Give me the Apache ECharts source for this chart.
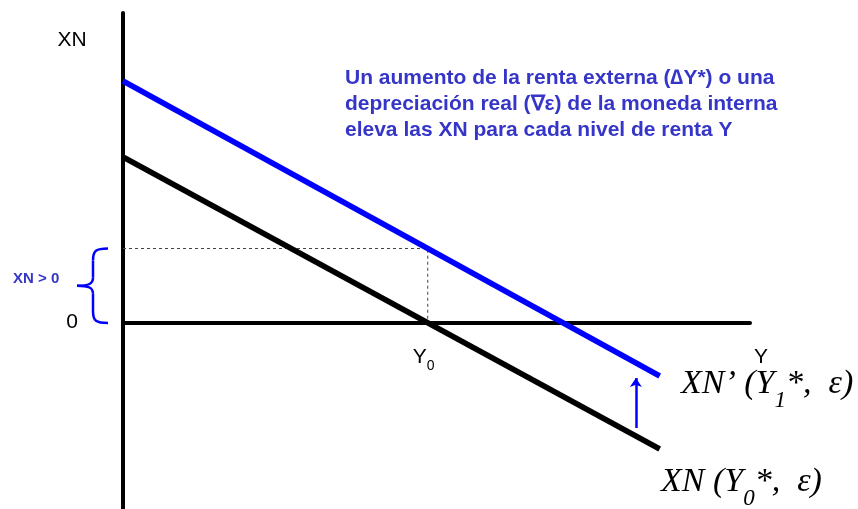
<!DOCTYPE html>
<html>
<head>
<meta charset="utf-8">
<script src="https://cdn.jsdelivr.net/npm/echarts@6/dist/echarts.min.js"></script>
<style>
  html, body { margin: 0; padding: 0; background: #fff; }
  #chart { width: 858px; height: 509px; }
</style>
</head>
<body>
<div id="chart"></div>
<script>
// XN curves (units: x = renta Y, y = exportaciones netas)
const xnLine = [[0, 33.2], [85.6, -25.2]];
const xnPrimeLine = [[0, 48.4], [85.6, -10.6]];
const y0 = 48.6;
const xnAtY0 = 14.9;
const shiftArrow = [[81.8, -21], [81.8, -11]];
const xRange = [0, 100];
const yRange = [-37.2, 62];
const noteLines = [
  "Un aumento de la renta externa (\u2206Y*) o una",
  "depreciación real (\u2207\u03b5) de la moneda interna",
  "eleva las XN para cada nivel de renta Y"
];

const BLUE = "#0000ff";
const NOTE_BLUE = "#3535c8";

const chart = echarts.init(document.getElementById("chart"));

const option = {
  animation: false,
  grid: { left: 123, top: 13, width: 627, height: 496 },
  xAxis: {
    type: "value",
    min: xRange[0],
    max: xRange[1],
    axisLine: { onZero: true, lineStyle: { color: "#000", width: 4 } },
    axisTick: { show: false },
    axisLabel: { show: false },
    splitLine: { show: false }
  },
  yAxis: {
    type: "value",
    min: yRange[0],
    max: yRange[1],
    axisLine: { onZero: true, lineStyle: { color: "#000", width: 4 } },
    axisTick: { show: false },
    axisLabel: { show: false },
    splitLine: { show: false }
  },
  series: [
    {
      name: "guias",
      type: "line",
      data: [[0, xnAtY0], [y0, xnAtY0], [y0, 0]],
      symbol: "none",
      lineStyle: { color: "#444", width: 1, type: [3, 3] },
      z: 1
    },
    {
      name: "XN",
      type: "line",
      data: xnLine,
      symbol: "none",
      lineStyle: { color: "#000", width: 5.5 },
      z: 3
    },
    {
      name: "XN'",
      type: "line",
      data: xnPrimeLine,
      symbol: "none",
      lineStyle: { color: BLUE, width: 5.5 },
      z: 3
    },
    {
      name: "desplazamiento",
      type: "lines",
      coordinateSystem: "cartesian2d",
      data: [{ coords: shiftArrow }],
      symbol: ["none", "arrow"],
      symbolSize: 9,
      lineStyle: { color: BLUE, width: 2.5, curveness: 0, opacity: 1 },
      z: 3
    }
  ]
};

chart.setOption(option);

// annotations placed from the data coordinates
const origin = chart.convertToPixel({ gridIndex: 0 }, [0, 0]);
const braceTop = chart.convertToPixel({ gridIndex: 0 }, [0, xnAtY0]);
const y0px = chart.convertToPixel({ gridIndex: 0 }, [y0, 0]);
const ax = origin[0];
const t = braceTop[1], b = origin[1], m = (t + b) / 2;
const bx = ax - 15, vx = ax - 30, tipx = ax - 46;

const braceStyle = { stroke: BLUE, lineWidth: 2.5, fill: null };
const curve = (x1, y1, cx1, cy1, cx2, cy2, x2, y2) => ({
  type: "bezierCurve",
  shape: { x1, y1, cpx1: cx1, cpy1: cy1, cpx2: cx2, cpy2: cy2, x2, y2 },
  style: braceStyle
});
const seg = (x1, y1, x2, y2) => ({
  type: "line",
  shape: { x1, y1, x2, y2 },
  style: braceStyle
});
const braceParts = [
  curve(bx, t, vx + 3, t, vx, t + 2, vx, t + 12),
  seg(vx, t + 12, vx, m - 8),
  curve(vx, m - 8, vx, m - 2, vx - 4, m, tipx, m),
  curve(tipx, m, vx - 4, m, vx, m + 2, vx, m + 8),
  seg(vx, m + 8, vx, b - 12),
  curve(vx, b - 12, vx, b - 2, vx + 3, b, bx, b)
];

const sans = "Liberation Sans, Arial, sans-serif";
const serif = "Liberation Serif, Times New Roman, serif";

chart.setOption({
  graphic: braceParts.concat([
    {
      type: "text", x: 13, y: m - 7,
      style: { text: "XN > 0", font: "bold 15px " + sans, fill: NOTE_BLUE, textVerticalAlign: "middle" }
    },
    {
      type: "text", x: 78, y: origin[1] - 1,
      style: { text: "0", font: "21px " + sans, fill: "#000", textAlign: "right", textVerticalAlign: "middle" }
    },
    {
      type: "text", x: 72, y: 40,
      style: { text: "XN", font: "21px " + sans, fill: "#000", textAlign: "center", textVerticalAlign: "middle" }
    },
    {
      type: "text", x: 761, y: 357,
      style: { text: "Y", font: "21px " + sans, fill: "#000", textAlign: "center", textVerticalAlign: "middle" }
    },
    {
      type: "text", x: y0px[0] - 15, y: 347,
      style: {
        text: "{m|Y}{s|0}",
        rich: {
          m: { font: "21px " + sans, fill: "#000", verticalAlign: "bottom", padding: [0, 0, 5, 0] },
          s: { font: "14px " + sans, fill: "#000", verticalAlign: "bottom" }
        }
      }
    },
    {
      type: "text", x: 345, y: 65,
      style: {
        text: noteLines.join("\n"),
        font: "bold 21px " + sans,
        fill: NOTE_BLUE,
        lineHeight: 26
      }
    },
    {
      type: "text", x: 681, y: 367,
      style: {
        text: "{m|XN\u2019 (Y}{s|1}{m|*,  \u03b5)}",
        rich: {
          m: { font: "italic 34px " + serif, fill: "#000", verticalAlign: "bottom", padding: [0, 0, 11, 0] },
          s: { font: "italic 23px " + serif, fill: "#000", verticalAlign: "bottom" }
        }
      }
    },
    {
      type: "text", x: 661, y: 465,
      style: {
        text: "{m|XN (Y}{s|0}{m|*,  \u03b5)}",
        rich: {
          m: { font: "italic 34px " + serif, fill: "#000", verticalAlign: "bottom", padding: [0, 0, 11, 0] },
          s: { font: "italic 23px " + serif, fill: "#000", verticalAlign: "bottom" }
        }
      }
    }
  ])
});
</script>
</body>
</html>
